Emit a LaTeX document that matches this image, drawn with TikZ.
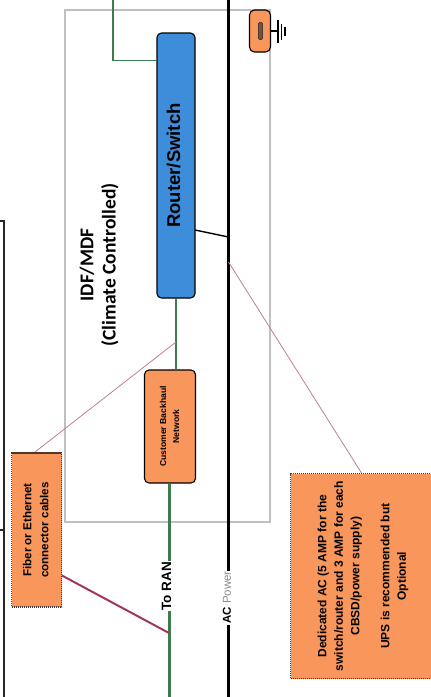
\documentclass[tikz,border=0pt]{standalone}
\usepackage{fontspec}
\setmainfont{Liberation Sans}
\newfontfamily\titlefont{Carlito}

\definecolor{rsblue}{RGB}{61,141,219}
\definecolor{boxorange}{RGB}{248,150,92}
\definecolor{lanline}{RGB}{60,125,78}
\definecolor{cablered}{RGB}{160,55,85}
\definecolor{leader}{RGB}{195,125,145}
\definecolor{roomgray}{RGB}{192,192,192}
\definecolor{noteedge}{RGB}{80,55,45}

% rotated, centred block of lines: #1 = font, #2 = lines
\newcommand{\vlabel}[2]{\rotatebox{90}{#1\begin{tabular}{@{}c@{}}#2\end{tabular}}}

\begin{document}
\begin{tikzpicture}[x=1pt,y=-1pt,
  device/.style={draw=black, line width=1.1pt, rounded corners=4.5pt, inner sep=0pt},
  note/.style={draw=noteedge, fill=boxorange, line width=1.4pt,
               dash pattern=on 1.1pt off 0.9pt, inner sep=0pt},
  room/.style={draw=roomgray, line width=1.5pt, inner sep=0pt},
  lan/.style={draw=lanline, line width=1.4pt},
  ranline/.style={draw=lanline, line width=3pt},
  power/.style={draw=black, line width=2.5pt},
  tap/.style={draw=black, line width=1.4pt},
  cable/.style={draw=cablered, line width=2pt},
  leaderline/.style={draw=leader, line width=0.8pt},
  frame/.style={draw=black!85, line width=2pt},
  onwire/.style={fill=white, inner sep=0.8pt}
]
\useasboundingbox (0,0) rectangle (431,697);

% climate controlled room
\node[room, minimum width=205pt, minimum height=512pt] (room) at (167.5,266) {};

% partial outer frame on the left
\draw[frame] (0,220.5) -- (4,220.5) -- (4,697);
\draw[frame] (0,530) -- (4,530);

% named points on the wires
\coordinate (upTop)   at (113,0);
\coordinate (upBend)  at (113,60.5);
\coordinate (acTop)   at (228.5,0);
\coordinate (acBot)   at (228.5,697);
\coordinate (acTap)   at (228.5,237);
\coordinate (acNote)  at (228.5,262);
\coordinate (ranEnd)  at (169,697);
\coordinate (ranTap)  at (169,633);
\coordinate (bhTap)   at (176,342);
\coordinate (rtTap)   at (195,230);
\coordinate (fbTap)   at (61,575);
\coordinate (dedTap)  at (361.5,473);
\coordinate (gndBar)  at (278,31);

% devices
\node[device, fill=rsblue, minimum width=38pt, minimum height=265pt] (router) at (176,165.5)
  {\vlabel{\bfseries\fontsize{18.5}{21}\selectfont}{Router/Switch}};
\node[device, fill=boxorange, minimum width=51pt, minimum height=113pt] (backhaul) at (170,426.5)
  {\vlabel{\bfseries\fontsize{8.6}{13}\selectfont}{Customer Backhaul\\Network}};
\node[device, fill=boxorange, rounded corners=5pt, minimum width=21pt, minimum height=42pt] (gnd) at (260,31) {};
\node[draw=noteedge, fill=noteedge!85, line width=0.6pt, rounded corners=1pt, inner sep=0pt,
      minimum width=4pt, minimum height=17pt] (gndmark) at (260.5,31) {};

% wiring
\draw[lan] (upTop) -- (upBend) -- (upBend -| router.west);
\draw[lan] (router.south) -- (router.south |- backhaul.north);
\draw[ranline] (backhaul.south -| ranEnd) -- (ranEnd);
\draw[power] (acTop) -- (acBot);
\draw[tap] (rtTap) -- (acTap);

% ground symbol
\draw[line width=1.3pt] (gnd.east) -- (gndBar);
\draw[line width=1.4pt] (278,20) -- (278,43);
\draw[line width=1.3pt] (281.7,23.5) -- (281.7,39.5);
\draw[line width=1.2pt] (285,27) -- (285,35.5);

% wire labels
\node[onwire] (toran) at (166.5,586)
  {\rotatebox{90}{\bfseries\fontsize{13.5}{15}\selectfont To RAN}};
\node[onwire] (acpower) at (227,597.5)
  {\rotatebox{90}{\fontsize{11.5}{13}\selectfont\textbf{AC} {\color{black!45}Power}}};

% title of the room
\node (title) at (100,265)
  {\vlabel{\titlefont\bfseries\fontsize{19.5}{22.5}\selectfont}{IDF/MDF\\(Climate Controlled)}};

% notes and their leaders
\draw[leaderline] (bhTap) -- (35,452);
\draw[leaderline] (acNote) -- (dedTap);
\draw[cable] (fbTap) -- (ranTap);

\node[note, minimum width=50pt, minimum height=154pt] (fiber) at (36.5,530)
  {\vlabel{\bfseries\fontsize{11.6}{17}\selectfont}{Fiber or Ethernet\\connector cables}};
\node[note, minimum width=144pt, minimum height=205pt, anchor=north west] (ded) at (290,473)
  {\vlabel{\bfseries\fontsize{12}{16.5}\selectfont}{Dedicated AC (5 AMP for the\\switch/router and 3 AMP for each\\CBSD/power supply)\\[13.5pt]UPS is recommended but\\Optional}};
\end{tikzpicture}
\end{document}
